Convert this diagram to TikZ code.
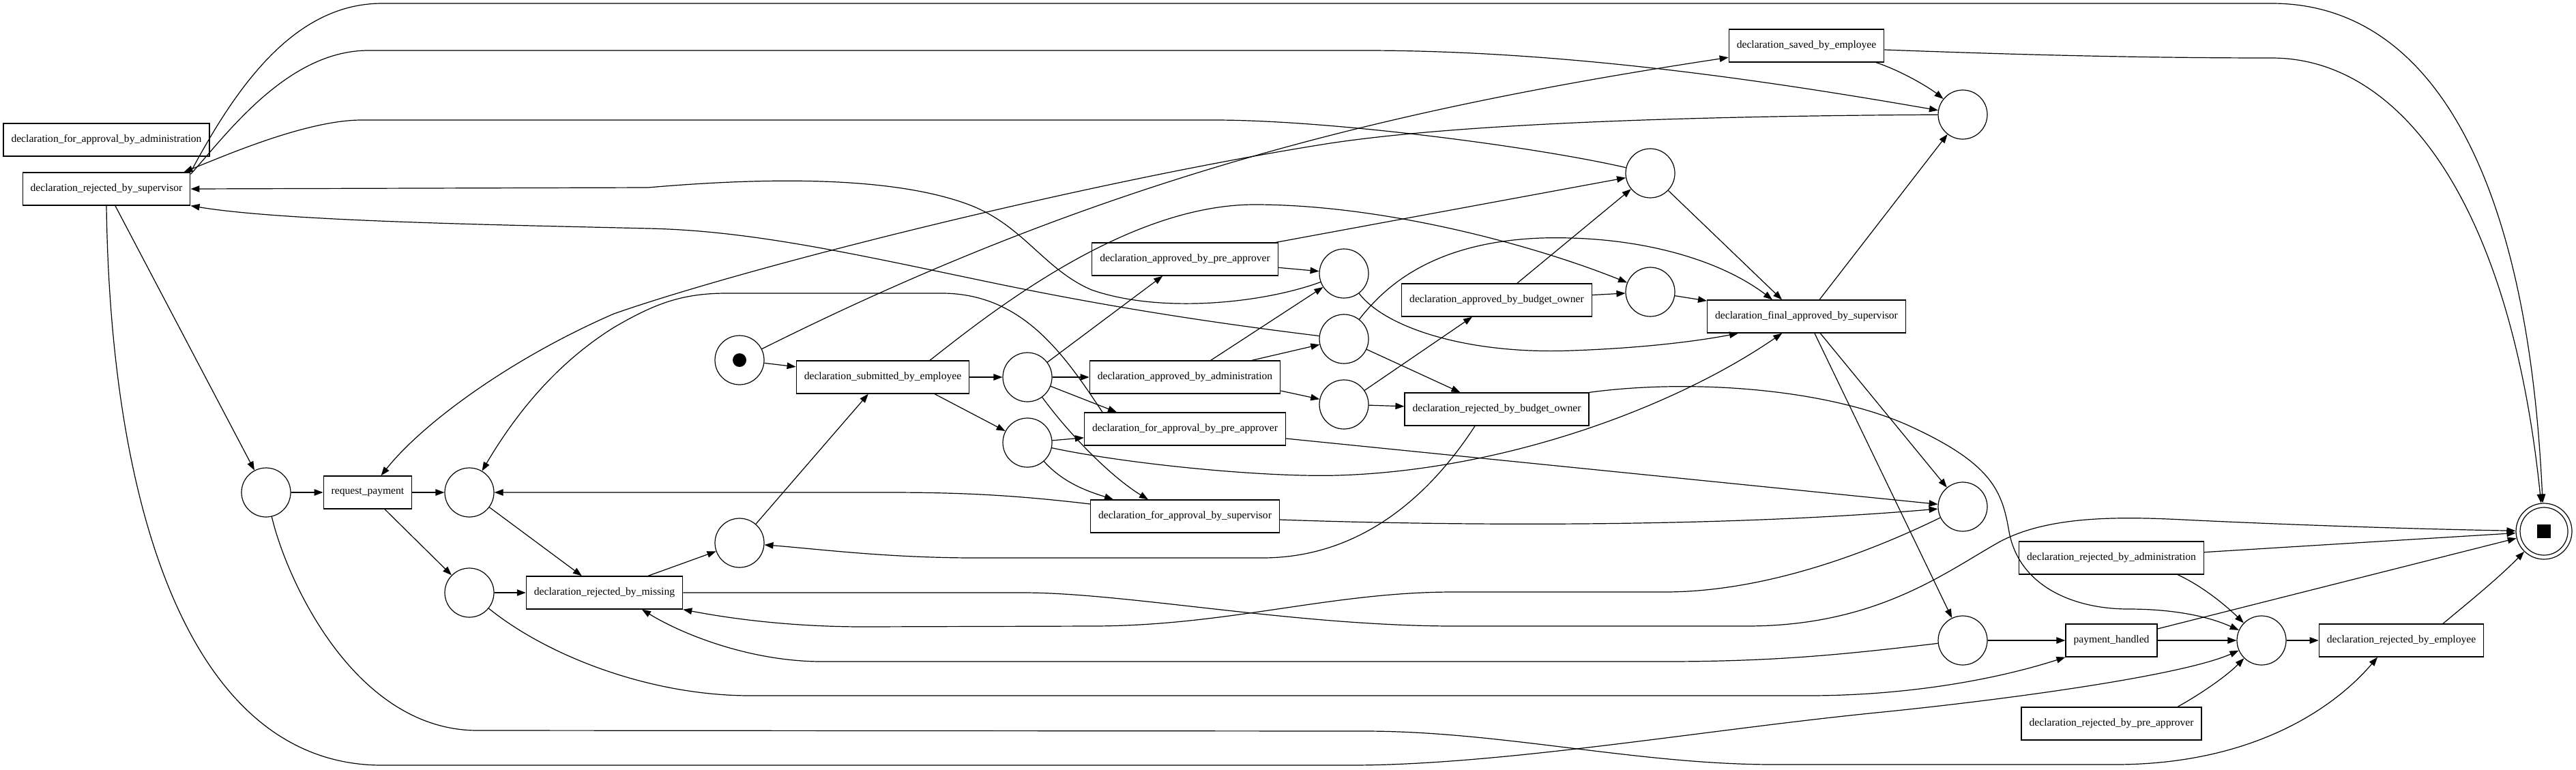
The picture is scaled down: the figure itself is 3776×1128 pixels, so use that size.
\documentclass[tikz,border=0pt]{standalone}
\usepackage{fontspec}
\setmainfont{Liberation Serif}
\usetikzlibrary{arrows.meta,calc}
\begin{document}
\begin{tikzpicture}[x=1pt,y=-1pt,
  trans/.style={draw, rectangle, line width=1.3pt, minimum height=48pt, inner xsep=11.5pt, inner ysep=0pt, font=\fontsize{15.6}{18}\selectfont},
  place/.style={draw, circle, line width=1.2pt, minimum size=72pt, inner sep=0pt},
  arc/.style={line width=1.2pt, -{Triangle[length=13pt,width=9.5pt]}}]
\useasboundingbox[fill=white] (0,0) rectangle (3776,1128);
% transitions
\node[trans] (Tfa) at (156,205) {declaration\_for\_approval\_by\_administration};
\node[trans] (Trs) at (156,277) {declaration\_rejected\_by\_supervisor};
\node[trans] (Trp) at (539,722) {request\_payment};
\node[trans] (Trm) at (886,869) {declaration\_rejected\_by\_missing};
\node[trans] (Tse) at (1294,553) {declaration\_submitted\_by\_employee};
\node[trans] (Tapa) at (1737,380) {declaration\_approved\_by\_pre\_approver};
\node[trans] (Taad) at (1737,553) {declaration\_approved\_by\_administration};
\node[trans] (Tfpa) at (1737,629) {declaration\_for\_approval\_by\_pre\_approver};
\node[trans] (Tfs) at (1737,757) {declaration\_for\_approval\_by\_supervisor};
\node[trans] (Tabo) at (2194,440) {declaration\_approved\_by\_budget\_owner};
\node[trans] (Trbo) at (2194,600) {declaration\_rejected\_by\_budget\_owner};
\node[trans] (Tfas) at (2648,464) {declaration\_final\_approved\_by\_supervisor};
\node[trans] (Tsv) at (2648,67) {declaration\_saved\_by\_employee};
\node[trans] (Tradm) at (3095,818) {declaration\_rejected\_by\_administration};
\node[trans] (Tph) at (3095,939) {payment\_handled};
\node[trans] (Trpa) at (3095,1061) {declaration\_rejected\_by\_pre\_approver};
\node[trans] (Tremp) at (3520,939) {declaration\_rejected\_by\_employee};
% places
\node[place] (Pa) at (390,722) {};
\node[place] (Pb) at (688,722) {};
\node[place] (Pc) at (688,869) {};
\node[place] (Pd) at (1084,796) {};
\node[place] (Ps) at (1084,528) {};
\node[place] (P1) at (1506,553) {};
\node[place] (P2) at (1506,649) {};
\node[place] (Pf) at (1970,401) {};
\node[place] (Pg) at (1970,497) {};
\node[place] (Pi) at (1970,593) {};
\node[place] (Pe) at (2419,254) {};
\node[place] (Ph) at (2419,428) {};
\node[place] (Ptop) at (2877,168) {};
\node[place] (Pj) at (2877,743) {};
\node[place] (Pk) at (2877,939) {};
\node[place] (Pl) at (3315,939) {};
\node[place, minimum size=82pt] (Pend) at (3729,779) {};
\draw[line width=1.2pt] (Pend.center) circle[radius=35pt];
\fill (3719,769) rectangle (3739,789);
\fill (Ps.center) circle[radius=10pt];
% start
\draw[arc] (Ps) -- (Tse);
\draw[arc] (Ps) .. controls (1616,262) and (2034,160) .. (Tsv);
% Tse
\draw[arc] (Tse) -- (P1);
\draw[arc] ([xshift=76pt]Tse.south) -- (P2);
\draw[arc] ([xshift=69pt]Tse.north) .. controls (1450,460) and (1650,300) .. (1839,300) .. controls (2030,300) and (2250,360) .. (Ph);
% P1
\draw[arc] (P1) -- (Tapa);
\draw[arc] (P1) -- (Taad);
\draw[arc] (P1) -- ([xshift=-100pt]Tfpa.north);
\draw[arc] (P1) .. controls (1570,640) and (1630,700) .. ([xshift=-54pt]Tfs.north);
% P2
\draw[arc] (P2) -- (Tfpa);
\draw[arc] (P2) .. controls (1560,710) and (1600,722) .. ([xshift=-105pt]Tfs.north);
\draw[arc] (P2) .. controls (1650,680) and (1850,700) .. (1960,697) .. controls (2200,690) and (2450,600) .. (Tfas);
% Tapa, Taad
\draw[arc] (Tapa) -- (Pf);
\draw[arc] (Tapa) -- (Pe);
\draw[arc] (Taad) -- (Pf);
\draw[arc] ([xshift=98pt]Taad.north) -- (Pg);
\draw[arc] ([yshift=-20pt]Taad.east) -- (Pi);
% Tfpa, Tfs
\draw[arc] ([xshift=-121pt]Tfpa.north) .. controls (1560,520) and (1500,432) .. (1384,430) -- (1065,430) .. controls (1000,430) and (960,445) .. (900,480) .. controls (820,530) and (760,600) .. (Pb);
\draw[arc] ([yshift=-14pt]Tfpa.east) -- (Pj);
\draw[arc] ([yshift=18pt]Tfs.west) .. controls (1480,725) and (1400,722) .. (1300,722) -- (Pb);
\draw[arc] ([yshift=-5pt]Tfs.east) .. controls (2100,770) and (2500,775) .. (Pj);
% Pf, Pg, Pi
\draw[arc] (Pf) .. controls (1850,445) and (1700,460) .. (1600,425) .. controls (1530,395) and (1500,330) .. (1420,300) .. controls (1300,255) and (1100,262) .. (950,275) -- (Trs.east);
\draw[arc] (Pf) .. controls (2030,480) and (2150,520) .. (2304,514) .. controls (2420,510) and (2500,498) .. ([xshift=-100pt]Tfas.south);
\draw[arc] (Pg) .. controls (1750,470) and (1600,445) .. (1447,413) .. controls (1250,372) and (1100,338) .. (950,335) .. controls (750,330) and (420,325) .. (Trs.south east);
\draw[arc] (Pg) -- (Trbo);
\draw[arc] (Pg) .. controls (2030,420) and (2100,355) .. (2259,349) .. controls (2400,345) and (2520,380) .. ([xshift=-50pt]Tfas.north);
\draw[arc] (Pi) -- (Tabo);
\draw[arc] (Pi) -- (Trbo);
% Tabo, Trbo
\draw[arc] (Tabo) -- (Ph);
\draw[arc] (Tabo) -- (Pe);
\draw[arc] ([xshift=-32pt]Trbo.south) .. controls (2100,720) and (2000,818) .. (1850,818) -- (1430,818) .. controls (1300,818) and (1200,805) .. (Pd);
\draw[arc] (Trbo.north east) .. controls (2480,555) and (2680,570) .. (2800,625) .. controls (2920,680) and (2935,720) .. (2945,780) .. controls (2960,860) and (3040,893) .. (3120,893) .. controls (3190,893) and (3240,905) .. (Pl);
% Pe, Ph
\draw[arc] (Pe) .. controls (2250,215) and (1950,176) .. (1780,176) -- (530,176) .. controls (450,176) and (330,228) .. ([xshift=-10pt]Trs.north east);
\draw[arc] (Pe) -- ([xshift=-36pt]Tfas.north);
\draw[arc] (Ph) -- (Tfas);
% Tfas
\draw[arc] (Tfas) -- (Ptop);
\draw[arc] (Tfas) -- (Pj);
\draw[arc] (Tfas) -- (Pk);
% Tsv
\draw[arc] ([xshift=102pt]Tsv.south) .. controls (2790,105) and (2830,130) .. (Ptop);
\draw[arc] ([yshift=-6pt]Tsv.east) .. controls (2900,78) and (3100,85) .. (3330,85) .. controls (3520,85) and (3680,300) .. (Pend);
% Trs
\draw[arc] (Trs) -- (Pa);
\draw[arc] (Trs.north east) .. controls (345,130) and (430,5) .. (560,5) -- (3330,5) .. controls (3560,5) and (3705,250) .. (Pend);
\draw[arc] ([yshift=-3pt]Trs.north east) .. controls (330,200) and (420,74) .. (540,74) -- (2000,74) .. controls (2300,74) and (2600,120) .. (Ptop);
\draw[arc] (Trs.south) .. controls (162,750) and (280,1122) .. (560,1122) -- (1980,1122) .. controls (2200,1122) and (2500,1070) .. (2750,1045) .. controls (2950,1025) and (3200,990) .. (Pl);
% Ptop
\draw[arc] (Ptop) .. controls (2500,170) and (2150,180) .. (1950,210) .. controls (1600,265) and (1100,390) .. (900,460) .. controls (750,525) and (620,620) .. (Trp);
% Pa, Trp, Pb, Pc
\draw[arc] (Pa) -- (Trp);
\draw[arc] (Pa) .. controls (420,850) and (520,1071) .. (700,1071) -- (2000,1072) .. controls (2200,1072) and (2400,1121) .. (2600,1121) -- (3100,1121) .. controls (3300,1121) and (3420,1040) .. ([xshift=-35pt]Tremp.south);
\draw[arc] (Trp) -- (Pb);
\draw[arc] (Trp) -- (Pc);
\draw[arc] (Pb) -- (Trm);
\draw[arc] (Pc) -- (Trm);
\draw[arc] (Pc) .. controls (800,960) and (950,1020) .. (1100,1020) -- (2650,1020) .. controls (2800,1020) and (2930,995) .. (Tph.south west);
% Trm, Pd
\draw[arc] ([xshift=64pt]Trm.north) -- (Pd);
\draw[arc] (Trm.east) -- (1500,869) .. controls (1650,869) and (1900,918) .. (2132,918) -- (2560,918) .. controls (2750,918) and (2850,840) .. (2930,795) .. controls (3000,757) and (3100,757) .. (3200,762) .. controls (3300,767) and (3500,775) .. (Pend);
\draw[arc] (Pd) -- (Tse);
% Pj, Pk
\draw[arc] (Pj) .. controls (2760,800) and (2600,868) .. (2440,868) -- (2130,868) .. controls (1950,868) and (1800,918) .. (1600,918) -- (1266,919) .. controls (1150,919) and (1060,905) .. (Trm.south east);
\draw[arc] (Pk) .. controls (2700,960) and (2600,970) .. (2440,970) -- (1205,970) .. controls (1100,970) and (1000,930) .. ([xshift=55pt]Trm.south);
\draw[arc] (Pk) -- (Tph);
% right part
\draw[arc] (Tph) -- (Pl);
\draw[arc] (Tph) -- (Pend);
\draw[arc] (Tradm) -- (Pend);
\draw[arc] ([xshift=97pt]Tradm.south) .. controls (3230,860) and (3265,890) .. (Pl);
\draw[arc] ([xshift=97pt]Trpa.north) .. controls (3230,1015) and (3265,990) .. (Pl);
\draw[arc] (Pl) -- (Tremp);
\draw[arc] ([xshift=61pt]Tremp.north) .. controls (3610,890) and (3660,850) .. (Pend);
\end{tikzpicture}
\end{document}
